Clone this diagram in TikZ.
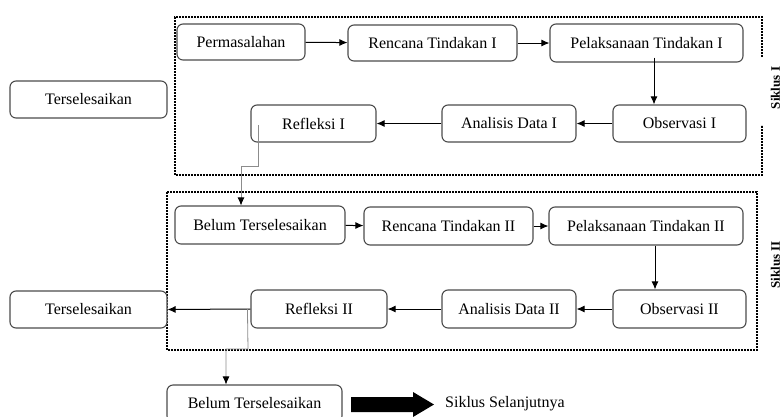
\documentclass[tikz,border=0pt]{standalone}
\usepackage{fontspec}
\setmainfont{Liberation Serif}
\usetikzlibrary{arrows.meta}
\begin{document}
\begin{tikzpicture}[x=1pt,y=-1pt,
  box/.style={draw=black!70, line width=1.1pt, rounded corners=6pt, fill=white,
    font=\fontsize{16}{18}\selectfont, inner sep=0pt, align=center},
  arr/.style={-{Latex[length=8pt,width=7pt]}, line width=1pt},
  garr/.style={draw=black!45, line width=0.8pt, -{Latex[length=8pt,width=7pt,color=black]}},
  dotbox/.style={line width=2pt, dash pattern=on 1.6pt off 1.4pt},
  lbl/.style={font=\fontsize{13}{15}\selectfont\bfseries, rotate=90, inner sep=0pt}]
\useasboundingbox (0,0) rectangle (782,416);
% dotted boxes
\draw[dotbox] (762,57) -- (762,17) -- (175,17) -- (175,175) -- (762,175) -- (762,125);
\draw[dotbox] (167,192) rectangle (757,350);
\node[lbl] (s1) at (775.5,88) {Siklus I};
\node[lbl] (s2) at (775.5,265) {Siklus II};
% cycle I
\node[box, minimum width=128pt, minimum height=36pt] (perm) at (241,42) {Permasalahan};
\node[box, minimum width=169pt, minimum height=36pt] (ren1) at (432.5,43) {Rencana Tindakan I};
\node[box, minimum width=193pt, minimum height=38pt] (pel1) at (646.5,43) {Pelaksanaan Tindakan I};
\node[box, minimum width=125pt, minimum height=37pt] (ref1) at (313.5,123.5) {Refleksi I};
\node[box, minimum width=134pt, minimum height=37pt] (ana1) at (509,123.5) {Analisis Data I};
\node[box, minimum width=133pt, minimum height=37pt] (obs1) at (679.5,123.5) {Observasi I};
\node[box, minimum width=157pt, minimum height=37pt] (ters1) at (88.5,99.5) {Terselesaikan};
% cycle II
\node[box, minimum width=170pt, minimum height=38pt] (bel1) at (260,225) {Belum Terselesaikan};
\node[box, minimum width=169pt, minimum height=38pt] (ren2) at (448.5,226) {Rencana Tindakan II};
\node[box, minimum width=194pt, minimum height=38pt] (pel2) at (646,226) {Pelaksanaan Tindakan II};
\node[box, minimum width=157pt, minimum height=37pt] (ters2) at (88.5,309.5) {Terselesaikan};
\node[box, minimum width=136pt, minimum height=38pt] (ref2) at (319,309) {Refleksi II};
\node[box, minimum width=134pt, minimum height=38pt] (ana2) at (509,309) {Analisis Data II};
\node[box, minimum width=133pt, minimum height=38pt] (obs2) at (679.5,309) {Observasi II};
% bottom
\node[box, minimum width=175pt, minimum height=37pt] (bel2) at (254.5,403.5) {Belum Terselesaikan};
\node[font=\fontsize{16}{18}\selectfont, anchor=west, inner sep=0pt] (next) at (445,404) {Siklus Selanjutnya};
\fill (351,397) -- (413,397) -- (413,392) -- (434,404.5) -- (413,417) -- (413,412) -- (351,412) -- cycle;
% arrows cycle I
\draw[arr] (perm) -- (ren1);
\draw[arr] (ren1) -- (pel1);
\draw[arr] ([yshift=5pt]pel1.south -| 654,0) -- (obs1.north -| 654,0);
\draw[arr] (obs1) -- (ana1);
\draw[arr] (ana1) -- (ref1);
\coordinate (r1a) at (258,125);
\draw[garr] (r1a) -- (258,166) -- (241,166) -- (bel1.north -| 241,0);
% arrows cycle II
\draw[arr] (bel1) -- (ren2);
\draw[arr] (ren2) -- (pel2);
\draw[arr] (pel2.south -| 655,0) -- (obs2.north -| 655,0);
\draw[arr] (obs2) -- (ana2);
\draw[arr] (ana2) -- (ref2);
\draw[arr] (ref2.west) -- (ters2.east);
\draw[garr] ([xshift=-3pt]ref2.west) -- (248,349) -- (226,349) -- (bel2.north -| 226,0);
\end{tikzpicture}
\end{document}
